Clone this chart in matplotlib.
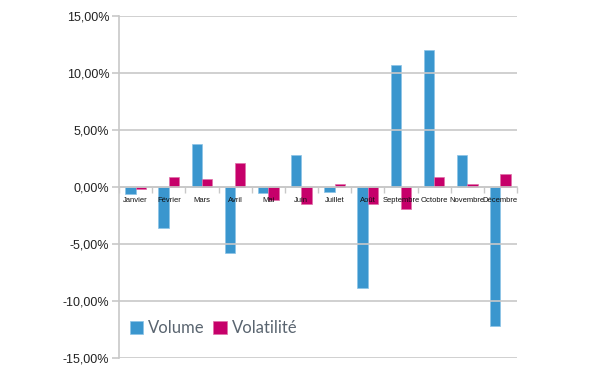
import matplotlib
matplotlib.use("Agg")
import matplotlib.pyplot as plt
import numpy as np
from matplotlib.ticker import FuncFormatter, FixedLocator

plt.rcParams["font.family"] = ["Liberation Sans", "DejaVu Sans"]

months = ["Janvier", "Février", "Mars", "Avril", "Mai", "Juin", "Juillet",
          "Août", "Septembre", "Octobre", "Novembre", "Décembre"]
volume = [-0.6, -3.6, 3.8, -5.8, -0.5, 2.8, -0.4, -8.9, 10.7, 12.0, 2.8, -12.2]
volatilite = [-0.2, 0.9, 0.7, 2.1, -1.1, -1.5, 0.3, -1.5, -1.9, 0.9, 0.3, 1.1]
yticks = [-15, -10, -5, 0, 5, 10, 15]

blue = "#3A96CE"
pink = "#C6006A"
grid = "#C8C8C8"

fig = plt.figure(figsize=(6, 3.75), dpi=100)
ax = fig.add_axes([119/600, 1-358/375, (517-119)/600, (358-16)/375])

x = np.arange(len(months))
w = 0.31
ax.bar(x - w/2, volume, w, color=blue, edgecolor="#8CC3E6", linewidth=0.5, label="Volume", zorder=2)
ax.bar(x + w/2, volatilite, w, color=pink, edgecolor="#E070A8", linewidth=0.5, label="Volatilité", zorder=2)
ax.set_axisbelow(False)

ax.set_xlim(-0.5, len(months) - 0.5)
ax.set_ylim(-15, 15)
ax.set_yticks(yticks)
ax.yaxis.set_major_formatter(FuncFormatter(lambda v, p: f"{v:.2f}".replace(".", ",") + "%"))
ax.grid(axis="y", color=grid, linewidth=1.2, zorder=0)
for gl in ax.get_ygridlines():
    gl.set_zorder(0)
ax.tick_params(axis="y", length=5, color=grid, width=1.2, labelsize=9, pad=2, labelcolor="#222222")

for s in ["top", "right"]:
    ax.spines[s].set_visible(False)
ax.spines["left"].set_color(grid)
ax.spines["left"].set_linewidth(1.2)
ax.spines["bottom"].set_position(("data", 0))
ax.spines["bottom"].set_color(grid)
ax.spines["bottom"].set_linewidth(1.2)
ax.spines["bottom"].set_zorder(1)

ax.xaxis.set_major_locator(FixedLocator(np.arange(len(months) + 1) - 0.5))
ax.xaxis.set_minor_locator(FixedLocator(x))
ax.xaxis.set_major_formatter(FuncFormatter(lambda v, p: ""))
ax.set_xticklabels(months, minor=True)
ax.tick_params(axis="x", which="major", length=4, color=grid, width=1.0, direction="out")
ax.tick_params(axis="x", which="minor", length=0, labelsize=5.5, pad=7, labelcolor="#111111")

leg = ax.legend(loc="lower left", bbox_to_anchor=(-0.01, 0.02), ncol=2, frameon=False,
                prop={"family": ["Lato", "DejaVu Sans"], "size": 12},
                handlelength=0.8, handleheight=0.8, handletextpad=0.3,
                columnspacing=0.5)
for t in leg.get_texts():
    t.set_color("#5A6570")

fig.savefig("out.png", dpi=100)
